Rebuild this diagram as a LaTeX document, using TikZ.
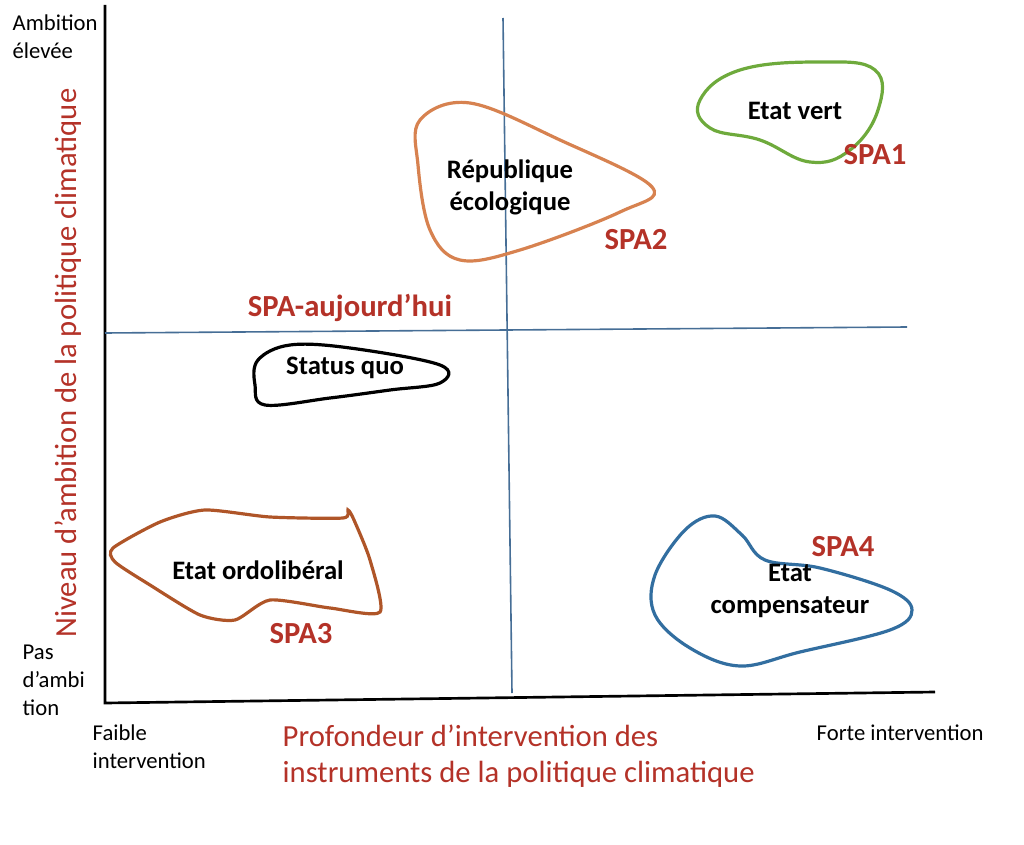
\documentclass[tikz,border=0pt]{standalone}
\usepackage{fontspec}
\setmainfont{Carlito}
\definecolor{axb}{RGB}{70,110,150}
\definecolor{spa}{RGB}{180,50,40}
\definecolor{gr}{RGB}{110,170,60}
\definecolor{org}{RGB}{215,130,80}
\definecolor{brn}{RGB}{175,85,40}
\definecolor{blu}{RGB}{50,110,160}
\tikzset{lbl/.style={font=\bfseries\fontsize{20}{24}\selectfont,align=center},
spal/.style={font=\bfseries\fontsize{23}{26}\selectfont,text=spa},
small/.style={font=\fontsize{17}{21}\selectfont,align=left},
blob/.style={line width=2.4pt}}
\begin{document}
\begin{tikzpicture}[x=0.75pt,y=-0.75pt]
\useasboundingbox (0,0) rectangle (1024,845);
\coordinate (yt) at (105,5); \coordinate (o) at (105,703); \coordinate (xe) at (935,692);
\draw[line width=2pt] (yt) -- (o) -- (xe);
\coordinate (h1) at (105,333); \coordinate (h2) at (907,327);
\coordinate (v1) at (503,18); \coordinate (v2) at (512,693);
\draw[axb,line width=1.2pt] (h1)--(h2); \draw[axb,line width=1.2pt] (v1)--(v2);
\draw[gr,blob] plot[smooth cycle,tension=0.7] coordinates{(700,100)(740,70)(820,62)(875,70)(878,110)(850,150)(810,162)(760,140)(710,128)};
\draw[org,blob] plot[smooth cycle,tension=0.6] coordinates{(420,120)(470,103)(560,140)(652,187)(620,212)(520,250)(460,260)(430,230)(418,165)};
\draw[black,blob] plot[smooth cycle,tension=0.6] coordinates{(258,360)(290,345)(350,348)(440,365)(440,383)(390,390)(330,398)(265,405)(255,385)};
\draw[brn,blob] plot[smooth cycle,tension=0.4] coordinates{(113,548)(160,522)(205,510)(270,517)(343,518)(348,510)(354,520)(370,560)(380,612)(330,608)(270,600)(235,620)(200,615)(150,585)(115,562)};
\draw[blu,blob] plot[smooth cycle,tension=0.6] coordinates{(655,575)(685,530)(715,516)(742,535)(765,560)(820,568)(890,590)(912,610)(890,630)(800,652)(740,666)(690,648)(655,615)};
\node[lbl] (n1) at (795,111) {Etat vert};
\node[lbl] (n2) at (510,187) {République\\écologique};
\node[lbl] (n3) at (345,368) {Status quo};
\node[lbl] (n4) at (258,570) {Etat ordolibéral};
\node[lbl] (n5) at (790,591) {Etat\\compensateur};
\node[spal] (s1) at (875,155) {SPA1};
\node[spal] (s2) at (636,240) {SPA2};
\node[spal] (s3) at (301,634) {SPA3};
\node[spal] (s4) at (843,547) {SPA4};
\node[spal] (s0) at (350,308) {SPA-aujourd’hui};
\node[small,anchor=north west] (a1) at (8,10) {Ambition\\élevée};
\node[small,anchor=north west] (a2) at (18,640) {Pas\\d’ambi\\tion};
\node[small,anchor=north west] (a3) at (88,720) {Faible\\intervention};
\node[small,anchor=north west] (a4) at (812,720) {Forte intervention};
\node[font=\fontsize{23}{27}\selectfont,text=spa,align=left,anchor=north west] (xl) at (278,720) {Profondeur d’intervention des\\instruments de la politique climatique};
\node[font=\fontsize{23}{27}\selectfont,text=spa,rotate=90] (yl) at (68,363) {Niveau d’ambition de la politique climatique};
\end{tikzpicture}
\end{document}
